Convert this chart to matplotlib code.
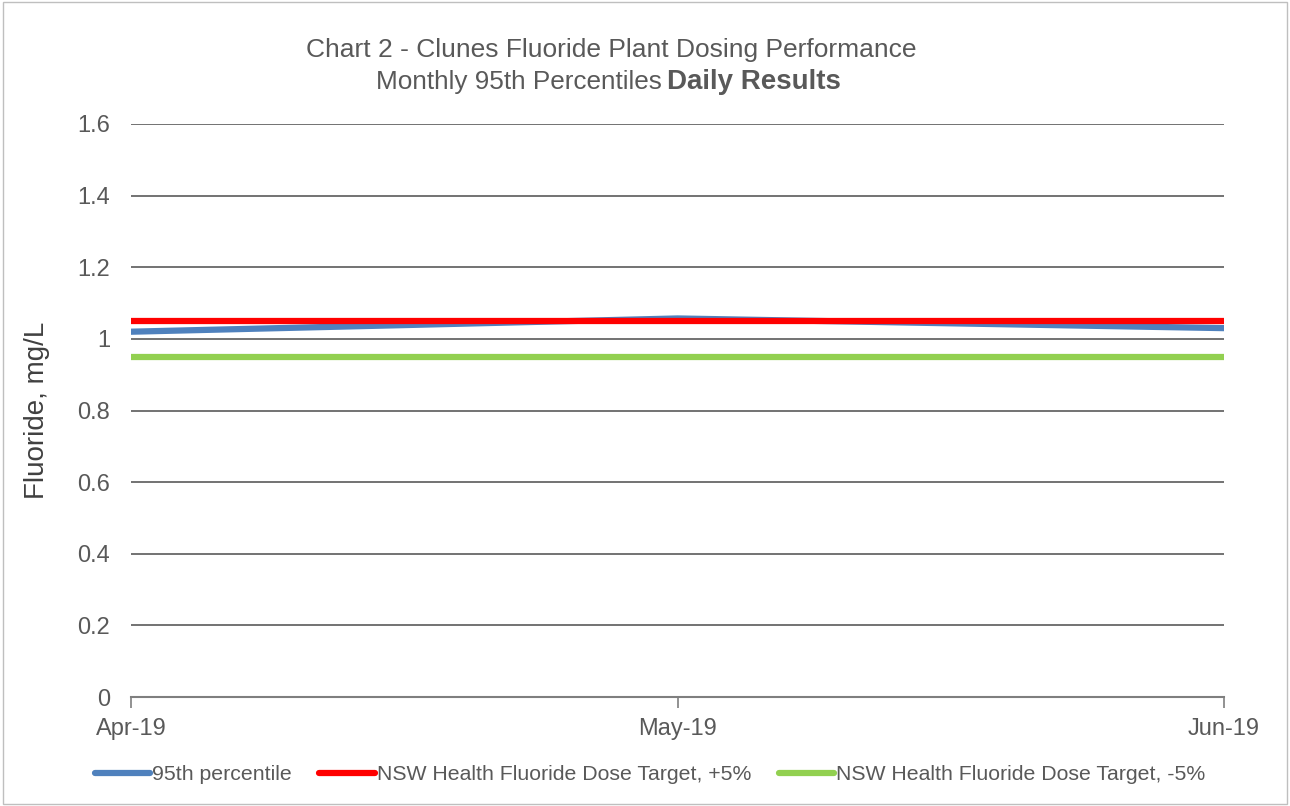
import matplotlib.pyplot as plt
from matplotlib.patches import Rectangle

plt.rcParams['font.family'] = ['Liberation Sans', 'DejaVu Sans']

months = ['Apr-19', 'May-19', 'Jun-19']
percentile_95 = [1.02, 1.057, 1.03]
target_plus = [1.05, 1.05, 1.05]
target_minus = [0.95, 0.95, 0.95]

text_col = '#595959'
grid_col = '#5a5a5a'

fig = plt.figure(figsize=(12.9, 8.06), dpi=100)
ax = fig.add_axes([131 / 1290, 1 - 697 / 806, (1224 - 131) / 1290, (697 - 124) / 806])

x = list(range(len(months)))
ax.plot(x, percentile_95, color='#4f81bd', lw=4.5, solid_capstyle='round',
        label='95th percentile', zorder=3)
ax.plot(x, target_plus, color='#ff0000', lw=4.5, solid_capstyle='round',
        label='NSW Health Fluoride Dose Target, +5%', zorder=4)
ax.plot(x, target_minus, color='#92d050', lw=4.5, solid_capstyle='round',
        label='NSW Health Fluoride Dose Target, -5%', zorder=4)

ax.set_xlim(0, 2)
ax.set_ylim(0, 1.6)
ax.set_yticks([0, 0.2, 0.4, 0.6, 0.8, 1, 1.2, 1.4, 1.6])
ax.set_yticklabels(['0', '0.2', '0.4', '0.6', '0.8', '1', '1.2', '1.4', '1.6'])
ax.set_xticks(x)
ax.set_xticklabels(months)
ax.yaxis.grid(True, color=grid_col, lw=1.2)
ax.set_axisbelow(True)
for s in ['top', 'right', 'left']:
    ax.spines[s].set_visible(False)
ax.spines['bottom'].set_color('#7f7f7f')
ax.spines['bottom'].set_linewidth(1.5)
ax.tick_params(axis='y', length=0, pad=15, labelsize=17, labelcolor=text_col)
ax.tick_params(axis='x', length=8, width=1.2, color='#7f7f7f', direction='out',
               pad=7, labelsize=17, labelcolor=text_col)
ax.set_ylabel('Fluoride, mg/L', fontsize=20, color='#404040', labelpad=20)

fig.text(611 / 1290, 1 - 50 / 806, 'Chart 2 - Clunes Fluoride Plant Dosing Performance',
         ha='center', va='center', fontsize=19, color=text_col)
fig.text(662 / 1290, 1 - 82 / 806, 'Monthly 95th Percentiles',
         ha='right', va='center', fontsize=18.8, color=text_col)
fig.text(667 / 1290, 1 - 82 / 806, 'Daily Results',
         ha='left', va='center', fontsize=20, color=text_col, fontweight='bold')

leg = fig.legend(loc='center', bbox_to_anchor=(650 / 1290, 1 - 775 / 806), ncol=3,
                 frameon=False, fontsize=15.3, handlelength=2.6, handletextpad=0.1,
                 columnspacing=1.3)
for t in leg.get_texts():
    t.set_color(text_col)

fig.patches.append(Rectangle((0.002, 0.002), 0.996, 0.996, transform=fig.transFigure,
                             fill=False, edgecolor='#bfbfbf', lw=1))

fig.savefig('out.png', dpi=100)
